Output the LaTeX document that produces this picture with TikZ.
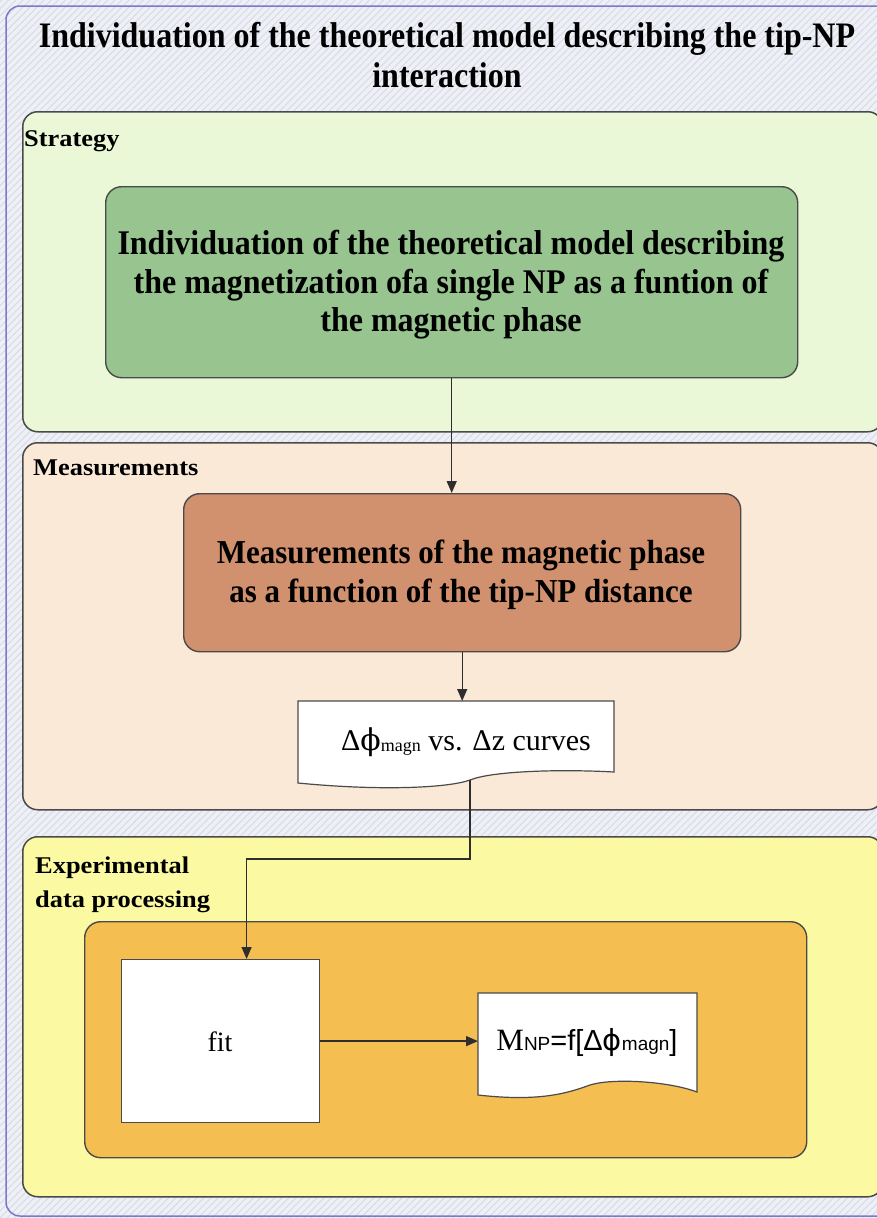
\documentclass[tikz,border=0pt]{standalone}
\usepackage{fontspec}
\setmainfont{Liberation Serif}
\newfontfamily\sansf{Liberation Sans}
\newfontfamily\phif{DejaVu Serif}
\newfontfamily\phis{DejaVu Sans}
\newfontfamily\labf{Liberation Serif}[FakeStretch=1.1]
\usetikzlibrary{arrows.meta,patterns.meta,calc}
\definecolor{bgc}{HTML}{EEF0F6}
\definecolor{hatchc}{HTML}{D5D9E6}
\definecolor{framec}{HTML}{7A7AC8}
\definecolor{stratc}{HTML}{EBF8D7}
\definecolor{measc}{HTML}{FAE9D7}
\definecolor{expc}{HTML}{FBF9A2}
\definecolor{orangec}{HTML}{F5BE50}
\definecolor{greenc}{HTML}{97C48F}
\definecolor{brownc}{HTML}{D1916E}
\definecolor{edgec}{HTML}{4A4A4A}
\definecolor{linec}{HTML}{2E2E2E}
\tikzset{
  panel/.style={draw=edgec, line width=1.5pt, rounded corners=15pt, inner sep=0pt, anchor=north west},
  boxstyle/.style={draw=edgec, line width=1.4pt, rounded corners=16pt, inner sep=0pt, anchor=north west},
  plainbox/.style={draw=edgec, line width=1.2pt, fill=white, inner sep=0pt, anchor=north west},
  docshape/.style={draw=edgec, line width=1.2pt, fill=white},
  paneltitle/.style={font=\labf\fontsize{24}{34}\selectfont\bfseries, inner sep=0pt},
  bigtext/.style={font=\fontsize{32}{38.5}\selectfont\bfseries, align=center, inner sep=0pt},
  conn/.style={draw=linec, line width=1.3pt},
  arr/.style={conn, -{Triangle[length=12pt,width=10pt]}}
}
\begin{document}
\begin{tikzpicture}[x=1pt,y=-1pt]
\useasboundingbox (0,0) rectangle (877,1218);
\clip (0,0) rectangle (877,1218);
% background
\fill[bgc] (0,0) rectangle (877,1218);
\fill[pattern={Lines[angle=45,distance=5pt,line width=0.9pt]}, pattern color=hatchc] (0,0) rectangle (877,1218);
\draw[framec, line width=1.5pt, rounded corners=14pt] (6,6) rectangle (900,1216);
% title
\node[font=\fontsize{32}{40}\selectfont\bfseries, align=center, inner sep=0pt] (title) at (447,55)
  {\scalebox{1}[1.12]{Individuation of the theoretical model describing the tip-NP}\\\scalebox{1}[1.12]{interaction}};
% panels
\node[panel, fill=stratc, minimum width=860pt, minimum height=320pt] (strat) at (22,111) {};
\node[panel, fill=measc, minimum width=860pt, minimum height=367pt] (meas) at (22,442) {};
\node[panel, fill=expc, minimum width=860pt, minimum height=360pt] (exp) at (22,836) {};
\node[boxstyle, fill=orangec, minimum width=722pt, minimum height=236pt] (inner) at (84,921) {};
% panel labels
\node[paneltitle, anchor=base west] (lstrat) at (24,146) {Strategy};
\node[paneltitle, anchor=base west] (lmeas) at (33,475) {Measurements};
\node[paneltitle, anchor=north west, align=left] (lexp) at (35,857) {Experimental\\data processing};
% main boxes
\node[boxstyle, fill=greenc, minimum width=692pt, minimum height=191pt] (green) at (105,186) {};
\node[bigtext] (greent) at (451,285) {\scalebox{1}[1.08]{Individuation of the theoretical model describing}\\\scalebox{1}[1.08]{the magnetization ofa single NP as a funtion of}\\\scalebox{1}[1.08]{the magnetic phase}};
\node[boxstyle, fill=brownc, minimum width=557pt, minimum height=158pt] (brown) at (183,493) {};
\node[bigtext, font=\fontsize{31}{38.5}\selectfont\bfseries] (brownt) at (461,575) {\scalebox{1}[1.08]{Measurements of the magnetic phase}\\\scalebox{1}[1.08]{as a function of the tip-NP distance}};
% document 1
\path[docshape] (298,701) -- (614,701) -- (614,772)
  .. controls (560,769) and (492,771) .. (470,780)
  .. controls (448,788) and (380,791) .. (298,783) -- cycle;
\node[inner sep=0pt, minimum width=316pt, minimum height=78pt, anchor=north west] (d1) at (298,701) {};
\node[inner sep=0pt, font=\fontsize{30}{34}\selectfont, anchor=base] (d1t) at (466,750)
  {Δ{\phif ϕ}\raisebox{-1.5pt}{\fontsize{18}{18}\selectfont magn} vs. Δz curves};
\coordinate (w1) at (470,780);
% fit box
\node[plainbox, minimum width=198pt, minimum height=163pt] (fit) at (121,959) {};
\node[inner sep=0pt, font=\fontsize{28}{34}\selectfont, anchor=base] (fitt) at (220,1051) {fit};
% document 2
\path[docshape] (478,993) -- (697,993) -- (697,1092)
  .. controls (668,1081) and (612,1078) .. (590,1085)
  .. controls (568,1093) and (540,1102) .. (478,1095) -- cycle;
\node[inner sep=0pt, minimum width=219pt, minimum height=95pt, anchor=north west] (d2) at (478,993) {};
\node[inner sep=0pt, anchor=base] (d2t) at (587,1050)
  {\fontsize{31}{34}\selectfont M\sansf\fontsize{19}{20}\selectfont NP\fontsize{29}{34}\selectfont =f[Δ{\phis ϕ}\fontsize{19}{20}\selectfont magn\fontsize{29}{34}\selectfont ]};
% connectors
\draw[arr] (green.south) -- (green.south |- brown.north);
\draw[arr] (brown.south) -- (brown.south |- d1.north);
\draw[arr] (w1) -- (470,859) -| ($(fit.north)+(26,0)$);
\draw[arr] (fit.east) -- (fit.east -| d2.west);
\end{tikzpicture}
\end{document}
